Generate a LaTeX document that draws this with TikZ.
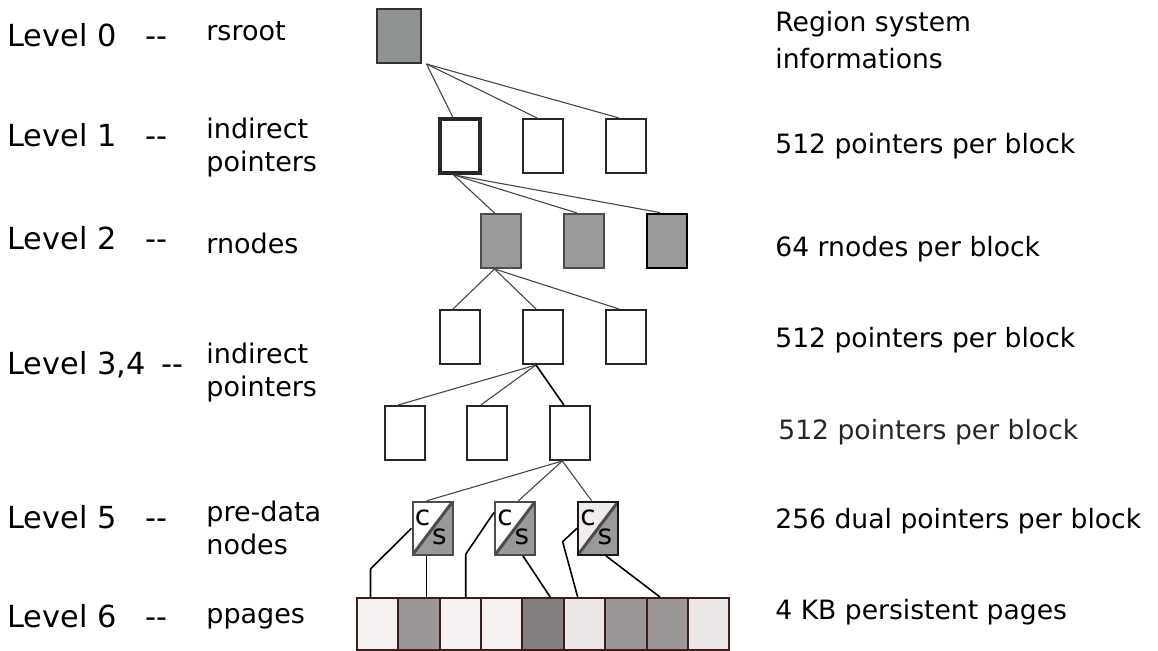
\documentclass[tikz,border=0pt]{standalone}
\usepackage{fontspec}
\setmainfont{DejaVu Sans}
\usetikzlibrary{calc}

\definecolor{rootgray}{RGB}{143,146,146}
\definecolor{rnodegray}{RGB}{154,154,154}
\definecolor{pdgray}{RGB}{153,153,153}
\definecolor{pdpink}{RGB}{240,236,236}
\definecolor{pageline}{RGB}{60,28,28}
\definecolor{linkgray}{RGB}{70,70,70}
\definecolor{pglight}{RGB}{245,241,241}
\definecolor{pgpale}{RGB}{235,231,231}
\definecolor{pgmid}{RGB}{155,151,151}
\definecolor{pgdark}{RGB}{133,128,128}

\tikzset{
  blk/.style={rectangle, draw=black!85, line width=1pt, fill=white,
    minimum width=20pt, minimum height=27pt, inner sep=0pt},
  rnode/.style={blk, draw=black!70, fill=rnodegray},
  predata/.style={blk, minimum height=26.5pt, draw=black!70,
    path picture={
      \fill[pdgray] (path picture bounding box.south west) -- (path picture bounding box.north east)
        -- (path picture bounding box.south east) -- cycle;
      \draw[line width=1.5pt, black!70] (path picture bounding box.south west)
        -- (path picture bounding box.north east);}},
  page/.style={rectangle, draw=pageline, line width=1pt, minimum width=20.7pt,
    minimum height=26pt, inner sep=0pt},
  link/.style={draw=linkgray, line width=0.55pt},
  leg/.style={draw=black, line width=0.8pt},
  lvl/.style={anchor=base west, inner sep=0pt, font=\fontsize{15.2}{17}\selectfont},
  mid/.style={anchor=base west, inner sep=0pt, align=left, font=\fontsize{13.5}{16.5}\selectfont},
  info/.style={anchor=base west, inner sep=0pt, align=left, font=\fontsize{13.3}{18.3}\selectfont},
  cs/.style={inner sep=0pt, font=\fontsize{14}{15}\selectfont}
}

\begin{document}
\begin{tikzpicture}[x=0.5pt, y=-0.5pt]
  \useasboundingbox (0,0) rectangle (1158,651);

  % Level labels
  \node[lvl] (lv0) at (7,46.7) {Level 0};
  \node[lvl] (lv1) at (7,146.7) {Level 1};
  \node[lvl] (lv2) at (7,249.3) {Level 2};
  \node[lvl] (lv3) at (7,375) {Level 3,4};
  \node[lvl] (lv5) at (7,528.3) {Level 5};
  \node[lvl] (lv6) at (7,627.7) {Level 6};
  \node[lvl] (d0) at (145,46.7) {-{}-};
  \node[lvl] (d1) at (145,146.7) {-{}-};
  \node[lvl] (d2) at (145,249.3) {-{}-};
  \node[lvl] (d3) at (161,375) {-{}-};
  \node[lvl] (d5) at (145,528.3) {-{}-};
  \node[lvl] (d6) at (145,627.7) {-{}-};

  % Names (base = last line)
  \node[mid] (nm0) at (206,40.7) {rsroot};
  \node[mid] (nm1) at (206,171.7) {indirect\\pointers};
  \node[mid] (nm2) at (206,254) {rnodes};
  \node[mid] (nm3) at (206,396.7) {indirect\\pointers};
  \node[mid] (nm5) at (206,555) {pre-data\\nodes};
  \node[mid] (nm6) at (206,623.3) {ppages};

  % Descriptions
  \node[info] (in0) at (775,68.3) {Region system\\informations};
  \node[info] (in1) at (775,153.3) {512 pointers per block};
  \node[info] (in2) at (775,256.7) {64 rnodes per block};
  \node[info] (in3) at (775,347.3) {512 pointers per block};
  \node[info, black!85] (in4) at (778,440) {512 pointers per block};
  \node[info] (in5) at (775,528.3) {256 dual pointers per block};
  \node[info] (in6) at (775,620) {4 KB persistent pages};

  % Blocks
  \node[blk, minimum width=22pt, draw=black!80, fill=rootgray] (root) at (399,36) {};
  \node[blk, line width=1.8pt] (l1a) at (460,146) {};
  \node[blk] (l1b) at (543,146) {};
  \node[blk] (l1c) at (626,146) {};
  \node[rnode] (l2a) at (501,241) {};
  \node[rnode] (l2b) at (584,241) {};
  \node[rnode, draw=black, line width=1.4pt] (l2c) at (667,241) {};
  \node[blk] (l3a) at (460,337) {};
  \node[blk] (l3b) at (543,337) {};
  \node[blk] (l3c) at (626,337) {};
  \node[blk] (l4a) at (404.7,433) {};
  \node[blk] (l4b) at (487.3,433) {};
  \node[blk] (l4c) at (570.3,433) {};
  \node[predata] (pd1) at (432.5,528.3) {};
  \node[predata] (pd2) at (515,528.3) {};
  \node[predata, fill=pdpink, draw=black!90] (pd3) at (598,528.3) {};
  \node[cs] (c1) at ($(pd1.center)+(-10,-10)$) {c};
  \node[cs] (s1) at ($(pd1.center)+(7,9)$) {s};
  \node[cs] (c2) at ($(pd2.center)+(-10,-10)$) {c};
  \node[cs] (s2) at ($(pd2.center)+(7,9)$) {s};
  \node[cs] (c3) at ($(pd3.center)+(-10,-10)$) {c};
  \node[cs] (s3) at ($(pd3.center)+(7,9)$) {s};

  % Persistent pages
  \node[page, fill=pglight] (pg1) at (377.4,624) {};
  \node[page, fill=pgmid] (pg2) at (418.8,624) {};
  \node[page, fill=pglight] (pg3) at (460.2,624) {};
  \node[page, fill=pglight] (pg4) at (501.6,624) {};
  \node[page, fill=pgdark] (pg5) at (543,624) {};
  \node[page, fill=pgpale] (pg6) at (584.4,624) {};
  \node[page, fill=pgmid] (pg7) at (625.8,624) {};
  \node[page, fill=pgmid] (pg8) at (667.2,624) {};
  \node[page, fill=pgpale] (pg9) at (708.6,624) {};

  % Connections
  \coordinate (rt) at ($(root.south east)+(4.5,0)$);
  \draw[link] (rt) -- (l1a.104);
  \draw[link] (rt) -- (l1b.102);
  \draw[link] (rt) -- (l1c.104);
  \draw[link] (l1a.-103) -- (l2a.103);
  \draw[link] (l1a.-103) -- (l2b.104);
  \draw[link] (l1a.-103) -- (l2c.104);
  \draw[link] (l2a.-103) -- (l3a.104);
  \draw[link] (l2a.-103) -- (l3b.104);
  \draw[link] (l2a.-103) -- (l3c.104);
  \draw[link] (l3b.-104) -- (l4a.103);
  \draw[link] (l3b.-104) -- (l4b.103);
  \draw[leg] (l3b.-104) -- (l4c.103);
  \draw[link] (l4c.-106) -- (pd1.102);
  \draw[link] (l4c.-106) -- (pd2.83);
  \draw[link] (l4c.-106) -- (pd3.103);
  \draw[leg] (pd1.west) -- ++(-41,40.7) coordinate (k1) -- (k1 |- pg1.north);
  \draw[leg] (pd1.-102) -- (pd1.-102 |- pg2.north);
  \draw[leg] (pd2.143) -- ++(-28.3,41.7) coordinate (k2) -- (k2 |- pg3.north);
  \draw[leg] (pd2.-74) -- (pg5.75);
  \draw[leg] (pd3.west) -- ++(-14.4,13.4) -- (pg6.104);
  \draw[leg] (pd3.-74) -- (pg8.105);
\end{tikzpicture}
\end{document}
